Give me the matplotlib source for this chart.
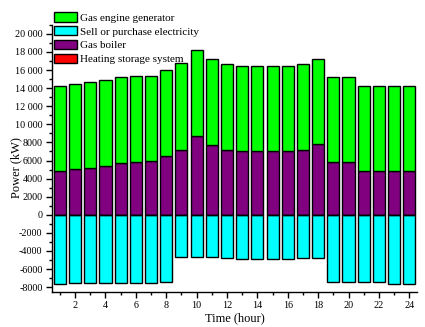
import numpy as np
import matplotlib
matplotlib.use("Agg")
import matplotlib.pyplot as plt
from matplotlib.ticker import MultipleLocator

plt.rcParams['font.family'] = ['Liberation Serif', 'DejaVu Serif']

# hourly dispatch (kW)
hours = np.arange(1, 25)
gas_boiler = [4800, 5100, 5200, 5400, 5700, 5800, 5900, 6500, 7200, 8700, 7700, 7200,
              7000, 7000, 7100, 7100, 7200, 7800, 5800, 5800, 4800, 4800, 4800, 4800]
total_heat = [14200, 14500, 14700, 14900, 15200, 15300, 15300, 16000, 16800, 18200, 17200, 16700,
              16400, 16400, 16400, 16400, 16700, 17200, 15200, 15200, 14200, 14200, 14200, 14200]
electricity = [-7600, -7500, -7500, -7500, -7500, -7500, -7500, -7400, -4700, -4700, -4700, -4800,
               -4900, -4900, -4900, -4900, -4800, -4800, -7400, -7400, -7400, -7400, -7600, -7600]
storage = [0] * 24

gas_engine = np.array(total_heat) - np.array(gas_boiler)

ytick_vals = [-8000, -6000, -4000, -2000, 0, 2000, 4000, 6000, 8000,
              10000, 12000, 14000, 16000, 18000, 20000]
ytick_labels = ['-8000', '-6000', '-4000', '-2000', '0', '2000', '4000', '6000', '8000',
                '10 000', '12 000', '14 000', '16 000', '18 000', '20 000']

fig = plt.figure(figsize=(4.25, 3.27), dpi=100)
ax = fig.add_axes([0.123, 0.108, 0.858, 0.816])

w = 0.8
kw = dict(width=w, edgecolor='black', linewidth=1.0)
b_boiler = ax.bar(hours, gas_boiler, color='#800080', **kw)
b_engine = ax.bar(hours, gas_engine, bottom=gas_boiler, color='#00ff00', **kw)
b_elec = ax.bar(hours, electricity, color='#00ffff', **kw)
b_store = ax.bar(hours, storage, color='#ff0000', **kw)

ax.set_xlim(0.5, 24.5)
ax.set_ylim(-8500, 21000)
ax.set_xticks(np.arange(2, 25, 2))
ax.xaxis.set_minor_locator(MultipleLocator(1))
ax.set_yticks(ytick_vals)
ax.set_yticklabels(ytick_labels)
ax.yaxis.set_minor_locator(MultipleLocator(1000))
ax.tick_params(which='major', direction='out', length=4, width=1, labelsize=7.3, pad=3)
ax.tick_params(which='minor', direction='out', length=2, width=1)

for s in ['top', 'right']:
    ax.spines[s].set_visible(False)
for s in ['left', 'bottom']:
    ax.spines[s].set_linewidth(1)

ax.set_xlabel('Time (hour)', fontsize=9, labelpad=1)
ax.set_ylabel('Power (kW)', fontsize=9)
ax.yaxis.set_label_coords(-0.083, 0.467)

fig.legend([b_engine, b_elec, b_boiler, b_store],
           ['Gas engine generator', 'Sell or purchase electricity', 'Gas boiler',
            'Heating storage system'],
           loc='upper left', bbox_to_anchor=(0.127, 0.962), frameon=False,
           fontsize=8, handlelength=2.1, handleheight=0.9, handletextpad=0.25,
           labelspacing=0.3, borderpad=0, borderaxespad=0)

fig.savefig('out.png', dpi=100)
